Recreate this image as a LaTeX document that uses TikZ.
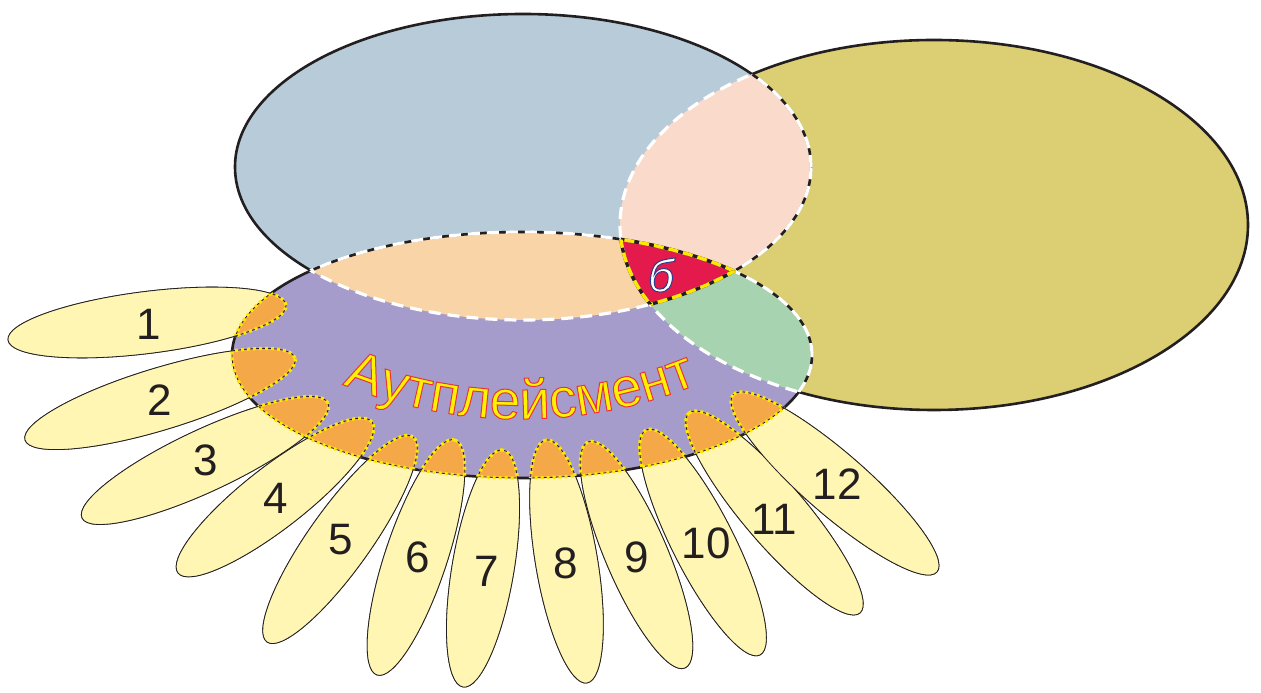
\documentclass[tikz,border=0pt]{standalone}
\usepackage{fontspec}
\setmainfont{Liberation Sans}
\newfontfamily\bannerfont{Liberation Sans}[FakeBold=1.8]
\newfontfamily\markfont{Liberation Sans Italic}[FakeBold=2.2]
\usetikzlibrary{decorations.text}
\definecolor{Sky}{HTML}{B7CCD8}
\definecolor{Olive}{HTML}{DBCE73}
\definecolor{Lilac}{HTML}{A59CCB}
\definecolor{Blush}{HTML}{F9DACB}
\definecolor{Peach}{HTML}{F9D4A6}
\definecolor{Mint}{HTML}{A8D3B0}
\definecolor{Crimson}{HTML}{E31A4B}
\definecolor{Amber}{HTML}{F5A847}
\definecolor{Petal}{HTML}{FFF6B3}
\definecolor{Ink}{HTML}{231F20}
\definecolor{Dot}{HTML}{FFE800}
\definecolor{Banner}{HTML}{FFF200}
\makeatletter
\newcommand\strokergb[1]{\pgfsys@invoke{#1 RG}}
\makeatother
\newcommand\skyshape{(523,526) ellipse [x radius=288, y radius=153]}
\newcommand\oliveshape{(934,468) ellipse [x radius=314, y radius=185]}
\newcommand\lilacshape{(522,338) ellipse [x radius=290, y radius=123]}
\newcommand\allarea{(-20,-20) rectangle (1281,713)}
\newcommand\petaldata{8/353/286/388, 25/253/295/335, 82/175/328/290, 178/120/372/271,
  267/51/413/256, 377/18/455/253, 463/6/503/243, 587/10/546/253, 685/25/588/251,
  760/38/646/263, 860/80/689/280, 937/121/733/298}
\newcommand\petalgeom{%
  \pgfmathsetmacro\pcx{(\ox+\ix)/2}%
  \pgfmathsetmacro\pcy{(\oy+\iy)/2}%
  \pgfmathsetmacro\pang{atan2(\iy-\oy,\ix-\ox)}%
  \pgfmathsetmacro\plen{veclen(\ix-\ox,\iy-\oy)/2}}
\newcommand\petalshape{(\pcx,\pcy) ellipse [x radius=\plen, y radius=31]}

\begin{document}
\begin{tikzpicture}[x=1pt, y=1pt,
    rim/.style={draw=Ink, line width=2.6pt},
    seam/.style={draw=white, line width=3.2pt, dash pattern=on 12pt off 7pt},
    coreline/.style={draw=Dot, line width=3.4pt, dash pattern=on 10pt off 5pt},
    petalrim/.style={draw=Ink, line width=0.8pt},
    dots/.style={draw=Dot, line width=3.2pt, dash pattern=on 3pt off 3pt},
    num/.style={text=Ink, font=\fontsize{44}{44}\selectfont}
  ]
  \useasboundingbox (0,0) rectangle (1261,693);
  \foreach \ox/\oy/\ix/\iy in \petaldata {
    \petalgeom
    \path[fill=Petal, petalrim, rotate around={\pang:(\pcx,\pcy)}] \petalshape;
  }
  \fill[Olive] \oliveshape;
  \fill[Sky] \skyshape;
  \fill[Lilac] \lilacshape;
  \begin{scope}
    \clip \oliveshape;
    \fill[Mint] \lilacshape;
  \end{scope}
  \begin{scope}
    \clip \skyshape;
    \fill[Blush] \oliveshape;
    \fill[Peach] \lilacshape;
    \clip \oliveshape;
    \fill[Crimson] \lilacshape;
  \end{scope}
  % solid rims
  \begin{scope}[even odd rule]
    \clip \allarea \skyshape;
    \clip \allarea \lilacshape;
    \path[rim] \oliveshape;
  \end{scope}
  \begin{scope}[even odd rule]
    \clip \allarea \lilacshape;
    \path[rim] \skyshape;
  \end{scope}
  \path[rim] \lilacshape;
  % dashed rims inside the overlaps
  \foreach \edge/\cut in {\oliveshape/\skyshape, \oliveshape/\lilacshape, \skyshape/\oliveshape,
      \skyshape/\lilacshape, \lilacshape/\skyshape, \lilacshape/\oliveshape} {
    \begin{scope}
      \clip \cut;
      \path[seam] \edge;
    \end{scope}
  }
  \foreach \edge/\cuta/\cutb in {\lilacshape/\skyshape/\oliveshape,
      \skyshape/\oliveshape/\lilacshape, \oliveshape/\skyshape/\lilacshape} {
    \begin{scope}
      \clip \cuta;
      \clip \cutb;
      \path[draw=Ink, line width=3.4pt] \edge;
      \path[coreline] \edge;
    \end{scope}
  }
  % petal bases
  \foreach \ox/\oy/\ix/\iy in \petaldata {
    \petalgeom
    \begin{scope}
      \clip[rotate around={\pang:(\pcx,\pcy)}] \petalshape;
      \fill[Amber] \lilacshape;
      \fill[Petal, even odd rule] \allarea \lilacshape;
      \path[draw=Ink, line width=0.8pt] \lilacshape;
      \path[dots] \lilacshape;
    \end{scope}
    \path[petalrim, rotate around={\pang:(\pcx,\pcy)}] \petalshape;
    \begin{scope}
      \clip \lilacshape;
      \path[dots, rotate around={\pang:(\pcx,\pcy)}] \petalshape;
    \end{scope}
  }
  \foreach \n/\px/\py in {1/149/369, 2/160/293, 3/206/233, 4/276/195, 5/341/153, 6/418/136,
      7/487/122, 8/566/130, 9/637/136, 10/706/150, 11/774/174, 12/837/209} {
    \node[num] (n\n) at (\px,\py) {\n};
  }
  \node[text=white, font=\markfont\fontsize{46}{46}\selectfont] (core) at (661,418)
    {\strokergb{0.18 0.23 0.53}б};
  \path[decorate, decoration={text along path, text align=center,
      text={|\bannerfont\fontsize{55}{55}\selectfont\color{Banner}\strokergb{0.91 0.2 0.23}|Аутплейсмент}}]
    (520,744) ++(245:470) arc [start angle=245, end angle=295, radius=470];
\end{tikzpicture}
\end{document}
